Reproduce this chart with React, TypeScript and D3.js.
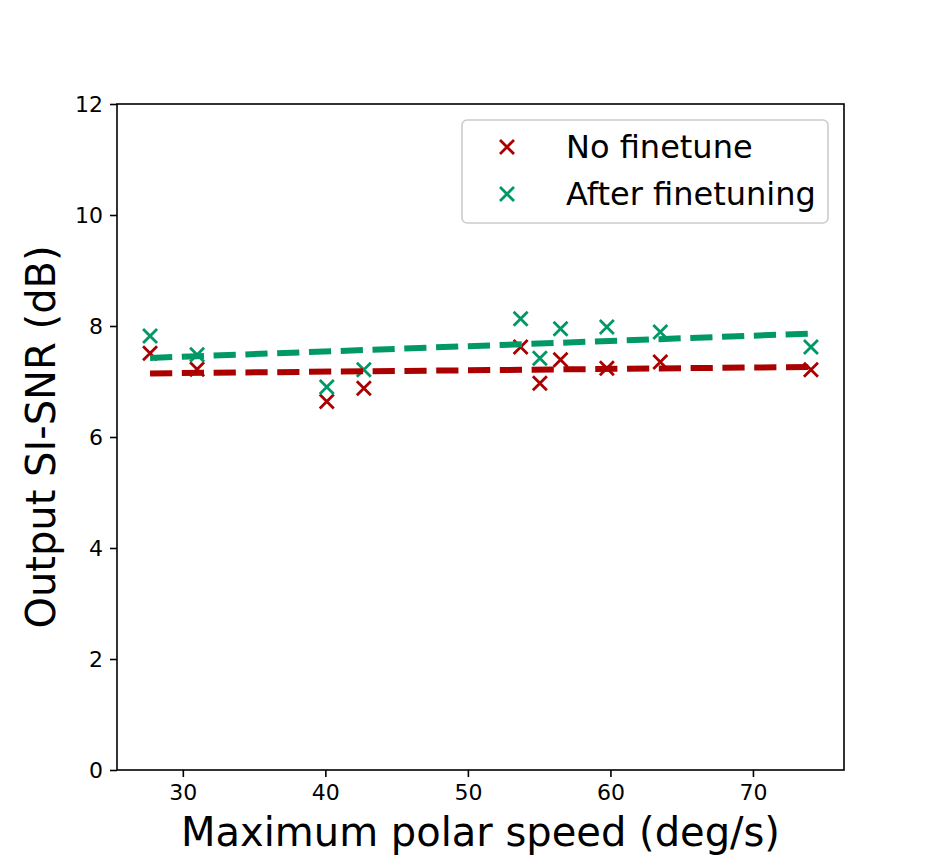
import React, { useEffect, useRef } from 'react';
import * as d3 from 'd3';

// Maximum polar speed (deg/s) for each test condition
const speeds = [27.7, 31.0, 40.1, 42.7, 53.7, 55.05, 56.5, 59.75, 63.5, 74.07];
// Output SI-SNR (dB)
const noFinetune = [7.51, 7.22, 6.64, 6.88, 7.62, 6.97, 7.39, 7.24, 7.35, 7.21];
const afterFinetune = [7.82, 7.48, 6.9, 7.21, 8.13, 7.42, 7.95, 7.98, 7.89, 7.62];

const xTicks = [30, 40, 50, 60, 70];
const yTicks = [0, 2, 4, 6, 8, 10, 12];

const seriesNames = ['No finetune', 'After finetuning'];
const seriesColors = ['#aa0000', '#009966'];

// least squares fit, used for the dashed trend lines
function fit(xs: number[], ys: number[]) {
    const mx = d3.mean(xs)!;
    const my = d3.mean(ys)!;
    const sxy = d3.sum(xs, (x, i) => (x - mx) * (ys[i] - my));
    const sxx = d3.sum(xs, x => (x - mx) * (x - mx));
    const slope = sxy / sxx;
    return (x: number) => my + slope * (x - mx);
}

const Chart = () => {
    const svgRef = useRef<SVGSVGElement>(null);

    useEffect(() => {
        if (!svgRef.current) return;

        const width = 938;
        const height = 866;
        const margin = { top: 104, right: 94, bottom: 96, left: 117 };
        const font = 'DejaVu Sans, sans-serif';

        const svg = d3.select(svgRef.current)
            .attr('width', width)
            .attr('height', height)
            .attr('viewBox', `0 0 ${width} ${height}`);

        svg.selectAll('*').remove();

        const xExtent = d3.extent(speeds) as [number, number];
        const pad = (xExtent[1] - xExtent[0]) * 0.05;

        const x = d3.scaleLinear()
            .domain([xExtent[0] - pad, xExtent[1] + pad])
            .range([margin.left, width - margin.right]);

        const y = d3.scaleLinear()
            .domain([0, 12])
            .range([height - margin.bottom, margin.top]);

        svg.append('rect')
            .attr('width', width)
            .attr('height', height)
            .attr('fill', 'white');

        // Axes
        const xAxis = svg.append('g')
            .attr('transform', `translate(0,${height - margin.bottom})`)
            .call(d3.axisBottom(x).tickValues(xTicks).tickSize(7).tickPadding(7).tickSizeOuter(0));
        xAxis.select('.domain').remove();
        xAxis.selectAll('line').attr('stroke', '#000').attr('stroke-width', 1.6);
        xAxis.selectAll('text').attr('fill', '#000').style('font-family', font).style('font-size', '22px');

        const yAxis = svg.append('g')
            .attr('transform', `translate(${margin.left},0)`)
            .call(d3.axisLeft(y).tickValues(yTicks).tickSize(7).tickPadding(7).tickSizeOuter(0));
        yAxis.select('.domain').remove();
        yAxis.selectAll('line').attr('stroke', '#000').attr('stroke-width', 1.6);
        yAxis.selectAll('text').attr('fill', '#000').style('font-family', font).style('font-size', '22px');

        // Frame
        svg.append('rect')
            .attr('x', margin.left)
            .attr('y', margin.top)
            .attr('width', width - margin.left - margin.right)
            .attr('height', height - margin.top - margin.bottom)
            .attr('fill', 'none')
            .attr('stroke', '#000')
            .attr('stroke-width', 1.6);

        const series = [noFinetune, afterFinetune];

        // Markers
        const cross = (g: d3.Selection<SVGGElement, unknown, null, undefined>, color: string) => {
            const r = 7;
            g.append('path')
                .attr('d', `M${-r},${-r}L${r},${r}M${-r},${r}L${r},${-r}`)
                .attr('stroke', color)
                .attr('stroke-width', 2.8)
                .attr('fill', 'none');
        };

        series.forEach((vals, si) => {
            speeds.forEach((s, i) => {
                const g = svg.append('g').attr('transform', `translate(${x(s)},${y(vals[i])})`);
                cross(g, seriesColors[si]);
            });
        });

        // Trend lines
        const line = d3.line<number>().x(d => x(d[0])).y(d => y(d[1]));
        series.forEach((vals, si) => {
            const f = fit(speeds, vals);
            svg.append('path')
                .datum(xExtent.map(v => [v, f(v)]))
                .attr('d', line as any)
                .attr('stroke', seriesColors[si])
                .attr('stroke-width', 6)
                .attr('stroke-dasharray', '22.2,9.6')
                .attr('fill', 'none');
        });

        // Legend
        const legend = svg.append('g');
        legend.append('rect')
            .attr('x', 462)
            .attr('y', 120)
            .attr('width', 366)
            .attr('height', 103)
            .attr('rx', 5)
            .attr('fill', 'white')
            .attr('fill-opacity', 0.8)
            .attr('stroke', '#cccccc')
            .attr('stroke-width', 1.6);

        seriesNames.forEach((name, i) => {
            const ly = 147 + i * 47;
            const g = legend.append('g').attr('transform', `translate(507,${ly})`);
            cross(g, seriesColors[i]);
            legend.append('text')
                .attr('x', 566)
                .attr('y', ly + 11)
                .style('font-family', font)
                .style('font-size', '32px')
                .attr('fill', '#000')
                .text(name);
        });

        // Axis labels
        svg.append('text')
            .attr('x', (margin.left + width - margin.right) / 2)
            .attr('y', 846)
            .attr('text-anchor', 'middle')
            .style('font-family', font)
            .style('font-size', '40px')
            .attr('fill', '#000')
            .text('Maximum polar speed (deg/s)');

        svg.append('text')
            .attr('transform', `translate(55,${(margin.top + height - margin.bottom) / 2}) rotate(-90)`)
            .attr('text-anchor', 'middle')
            .style('font-family', font)
            .style('font-size', '40px')
            .attr('fill', '#000')
            .text('Output SI-SNR (dB)');
    }, []);

    return <svg ref={svgRef} style={{ position: 'absolute', left: 0, top: 0, display: 'block' }} />;
};

export default function App() {
    return <Chart />;
}
